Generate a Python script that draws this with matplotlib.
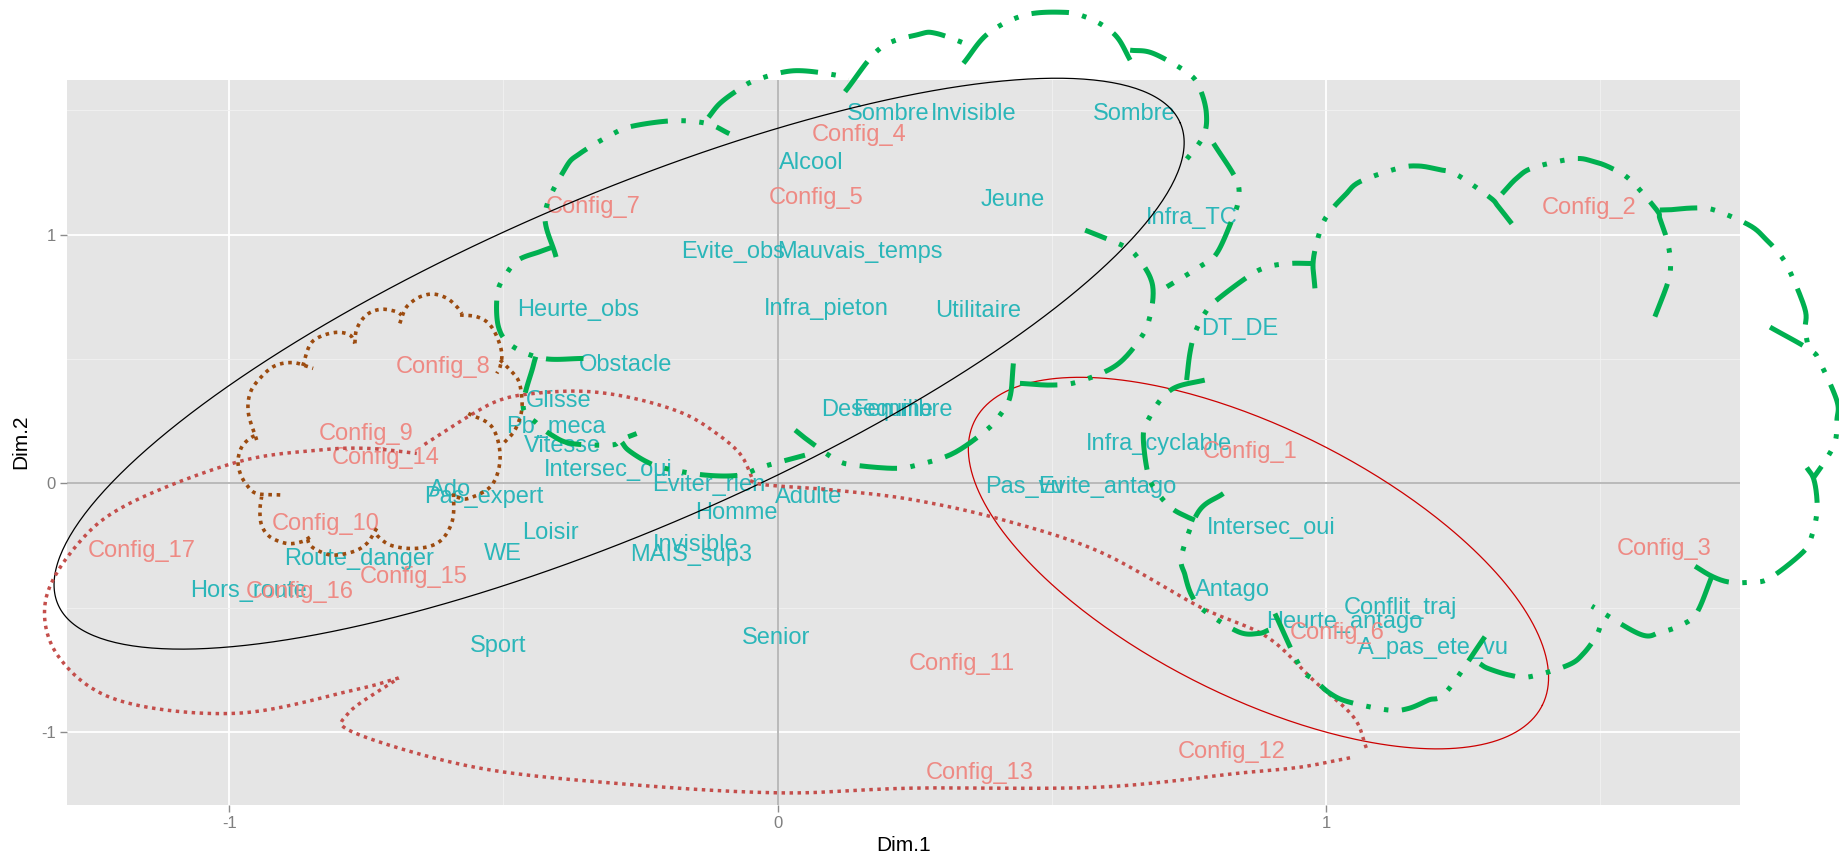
import numpy as np
import matplotlib.pyplot as plt

plt.rcParams['font.family'] = ['Liberation Sans', 'DejaVu Sans']

# modalités des variables (coordonnées Dim.1 / Dim.2)
noms_var = ["Sombre", "Invisible", "Sombre", "Alcool", "Jeune", "Infra_TC", "Evite_obs",
            "Mauvais_temps", "Heurte_obs", "Infra_pieton", "Utilitaire", "DT_DE", "Obstacle",
            "Glisse", "Desequilibre", "Femme", "Pb_meca", "Vitesse", "Infra_cyclable",
            "Intersec_oui", "Eviter_rien", "Pas_vu", "Evite_antago", "Ado", "Pas_expert",
            "Adulte", "Homme", "Intersec_oui", "Loisir", "Invisible", "WE", "MAIS_sup3",
            "Route_danger", "Antago", "Hors_route", "Conflit_traj", "Heurte_antago",
            "Senior", "Sport", "A_pas_ete_vu"]
x_var = [0.201, 0.357, 0.650, 0.062, 0.428, 0.755, -0.081, 0.150, -0.364, 0.088, 0.366,
         0.843, -0.278, -0.400, 0.199, 0.210, -0.404, -0.393, 0.695, -0.308, -0.126, 0.450,
         0.601, -0.597, -0.535, 0.056, -0.075, 0.901, -0.415, -0.150, -0.501, -0.158,
         -0.764, 0.830, -0.965, 1.136, 1.033, -0.002, -0.509, 1.196]
y_var = [1.486, 1.486, 1.486, 1.288, 1.139, 1.066, 0.929, 0.929, 0.698, 0.700, 0.693,
         0.620, 0.476, 0.330, 0.295, 0.295, 0.226, 0.151, 0.156, 0.052, -0.007, -0.014,
         -0.014, -0.028, -0.054, -0.054, -0.118, -0.179, -0.201, -0.249, -0.285, -0.288,
         -0.305, -0.429, -0.433, -0.503, -0.557, -0.621, -0.653, -0.664]

# configurations (individus)
noms_conf = ["Config_%d" % i for i in range(1, 18)]
x_conf = [0.862, 1.480, 1.617, 0.148, 0.071, 1.020, -0.336, -0.610, -0.751, -0.824,
          0.336, 0.828, 0.368, -0.714, -0.663, -0.871, -1.159]
y_conf = [0.124, 1.109, -0.264, 1.401, 1.146, -0.604, 1.113, 0.468, 0.200, -0.164,
          -0.726, -1.080, -1.165, 0.100, -0.376, -0.436, -0.274]

# ellipses : centre + deux demi-axes conjugués
ellipse_noire = [(-0.289, 0.481), (1.0235, 0.9675), (-0.120, 0.618)]
ellipse_rouge = [(0.877, -0.321), (0.5177, -0.5717), (0.1093, 0.4811)]

# lasso pointillé rouge, tracé en quatre morceaux
lasso = [
    [(1.044, -1.104), (0.952, -1.142), (0.845, -1.165), (0.588, -1.222), (0.246, -1.226),
     (0.002, -1.245), (-0.289, -1.208), (-0.552, -1.142), (-0.770, -1.005), (-0.783, -0.925),
     (-0.691, -0.783)],
    [(-0.691, -0.783), (-0.770, -0.830), (-0.986, -0.925), (-1.202, -0.873), (-1.311, -0.698),
     (-1.335, -0.472), (-1.275, -0.241), (-1.181, -0.080), (-0.986, 0.085), (-0.834, 0.134),
     (-0.744, 0.140), (-0.658, 0.120)],
    [(-0.644, 0.156), (-0.560, 0.274), (-0.506, 0.335), (-0.446, 0.361), (-0.354, 0.370),
     (-0.263, 0.342), (-0.172, 0.281), (-0.111, 0.200), (-0.069, 0.120), (-0.050, 0.040),
     (-0.045, 0.005)],
    [(-0.050, 0.010), (-0.020, -0.007), (0.101, -0.027), (0.246, -0.066), (0.409, -0.146),
     (0.587, -0.275), (0.770, -0.497), (0.892, -0.617), (0.977, -0.792), (1.050, -0.939),
     (1.074, -1.066)],
]

# nuage marron (pointillé)
nuage_marron = [
    [(-0.950, 0.174), (-0.965, 0.281), (-0.962, 0.362), (-0.944, 0.422), (-0.917, 0.472),
     (-0.883, 0.485), (-0.847, 0.462)],
    [(-0.866, 0.472), (-0.853, 0.556), (-0.834, 0.590), (-0.804, 0.607), (-0.780, 0.596),
     (-0.771, 0.563)],
    [(-0.771, 0.563), (-0.768, 0.617), (-0.756, 0.663), (-0.740, 0.690), (-0.719, 0.700),
     (-0.695, 0.690), (-0.686, 0.677)],
    [(-0.689, 0.643), (-0.680, 0.697), (-0.670, 0.724), (-0.652, 0.750), (-0.628, 0.761),
     (-0.603, 0.744), (-0.585, 0.710), (-0.576, 0.683)],
    [(-0.579, 0.677), (-0.549, 0.670), (-0.527, 0.643), (-0.512, 0.590), (-0.503, 0.523),
     (-0.506, 0.469), (-0.512, 0.442)],
    [(-0.506, 0.496), (-0.488, 0.456), (-0.473, 0.415), (-0.467, 0.355), (-0.467, 0.288),
     (-0.479, 0.214), (-0.500, 0.160)],
    [(-0.564, 0.281), (-0.521, 0.227), (-0.506, 0.107), (-0.521, -0.007), (-0.564, -0.061),
     (-0.588, -0.054)],
    [(-0.591, -0.041), (-0.591, -0.121), (-0.597, -0.175), (-0.613, -0.228), (-0.637, -0.255),
     (-0.673, -0.262), (-0.707, -0.248), (-0.728, -0.215), (-0.734, -0.195)],
    [(-0.731, -0.181), (-0.749, -0.242), (-0.774, -0.275), (-0.810, -0.289), (-0.834, -0.275),
     (-0.853, -0.248), (-0.858, -0.212)],
    [(-0.853, -0.217), (-0.868, -0.235), (-0.895, -0.242), (-0.926, -0.215), (-0.941, -0.168),
     (-0.944, -0.108), (-0.941, -0.054)],
    [(-0.907, -0.047), (-0.950, -0.041), (-0.968, -0.007), (-0.980, 0.040), (-0.984, 0.093),
     (-0.977, 0.147), (-0.962, 0.181), (-0.950, 0.194)],
]

# grand nuage vert du haut
nuage_vert_1 = [
    [(-0.404, 0.910), (-0.424, 1.085), (-0.387, 1.267), (-0.360, 1.327), (-0.299, 1.407),
     (-0.263, 1.437), (-0.190, 1.458), (-0.129, 1.447), (-0.088, 1.406)],
    [(-0.126, 1.472), (-0.105, 1.528), (-0.072, 1.582), (-0.039, 1.622), (0.029, 1.659),
     (0.105, 1.642), (0.129, 1.622)],
    [(0.123, 1.575), (0.187, 1.749), (0.257, 1.805), (0.290, 1.809), (0.357, 1.756)],
    [(0.339, 1.689), (0.384, 1.809), (0.451, 1.883), (0.524, 1.894), (0.561, 1.876),
     (0.595, 1.839), (0.621, 1.789), (0.643, 1.702)],
    [(0.643, 1.742), (0.685, 1.729), (0.749, 1.649), (0.770, 1.588), (0.782, 1.488),
     (0.776, 1.394), (0.740, 1.286)],
    [(0.795, 1.367), (0.837, 1.219), (0.840, 1.139), (0.831, 1.072), (0.801, 0.925),
     (0.770, 0.871), (0.710, 0.790)],
    [(0.442, 0.402), (0.500, 0.395), (0.548, 0.408), (0.618, 0.475), (0.664, 0.590),
     (0.679, 0.670), (0.685, 0.764), (0.679, 0.831), (0.658, 0.904), (0.634, 0.951),
     (0.561, 1.018)],
    [(0.430, 0.482), (0.424, 0.348), (0.406, 0.275), (0.381, 0.214), (0.320, 0.120),
     (0.254, 0.073), (0.214, 0.060), (0.141, 0.073), (0.108, 0.093), (0.059, 0.167),
     (0.032, 0.214)],
    [(-0.284, 0.165), (-0.272, 0.133), (-0.239, 0.087), (-0.205, 0.060), (-0.132, 0.033),
     (-0.069, 0.033), (-0.026, 0.067), (0.050, 0.113)],
    [(-0.441, 0.509), (-0.446, 0.469), (-0.464, 0.308), (-0.439, 0.241), (-0.412, 0.194),
     (-0.376, 0.160), (-0.303, 0.154), (-0.287, 0.174), (-0.257, 0.200)],
    [(-0.354, 0.502), (-0.427, 0.502), (-0.484, 0.552), (-0.509, 0.629), (-0.511, 0.764),
     (-0.496, 0.837), (-0.473, 0.898), (-0.434, 0.931), (-0.409, 0.951)],
]

# nuage vert de droite
nuage_vert_2 = [
    [(0.746, 0.415), (0.752, 0.523), (0.761, 0.603), (0.779, 0.683), (0.801, 0.737),
     (0.862, 0.837), (0.895, 0.871), (0.933, 0.884), (0.974, 0.884)],
    [(0.980, 0.784), (0.977, 0.898), (0.992, 1.032), (1.010, 1.099), (1.035, 1.159),
     (1.062, 1.213), (1.132, 1.267), (1.169, 1.276), (1.205, 1.262), (1.238, 1.242),
     (1.299, 1.150), (1.314, 1.114), (1.339, 1.044)],
    [(1.321, 1.164), (1.348, 1.227), (1.378, 1.269), (1.451, 1.305), (1.487, 1.295),
     (1.521, 1.267), (1.555, 1.220), (1.603, 1.100), (1.609, 1.065), (1.621, 0.987),
     (1.628, 0.903), (1.625, 0.818), (1.600, 0.670)],
    [(1.609, 1.099), (1.628, 1.100), (1.670, 1.107), (1.707, 1.100), (1.773, 1.037),
     (1.803, 0.980), (1.828, 0.920), (1.846, 0.853), (1.874, 0.698), (1.874, 0.621),
     (1.880, 0.543)],
    [(1.810, 0.628), (1.883, 0.536), (1.901, 0.486), (1.932, 0.331), (1.932, 0.254),
     (1.929, 0.169), (1.913, 0.099), (1.889, 0.021)],
    [(1.877, 0.063), (1.889, 0.021), (1.895, -0.050), (1.895, -0.127), (1.886, -0.212),
     (1.871, -0.275), (1.810, -0.381), (1.776, -0.398), (1.737, -0.398), (1.704, -0.374),
     (1.667, -0.325)],
    [(1.704, -0.374), (1.676, -0.522), (1.646, -0.572), (1.609, -0.600), (1.573, -0.607),
     (1.485, -0.494)],
    [(1.281, -0.726), (1.296, -0.745), (1.336, -0.772), (1.372, -0.778), (1.442, -0.731),
     (1.470, -0.684), (1.494, -0.610), (1.504, -0.547)],
    [(0.907, -0.524), (0.953, -0.738), (0.980, -0.792), (1.007, -0.844), (1.041, -0.879),
     (1.114, -0.912), (1.150, -0.906), (1.187, -0.872), (1.220, -0.838), (1.290, -0.617)],
    [(0.813, -0.041), (0.768, -0.113), (0.737, -0.289), (0.743, -0.369), (0.755, -0.450),
     (0.776, -0.509), (0.840, -0.597), (0.877, -0.604), (0.896, -0.590)],
    [(0.779, 0.415), (0.728, 0.388), (0.701, 0.342), (0.679, 0.268), (0.667, 0.194),
     (0.676, 0.033), (0.694, -0.041), (0.719, -0.101), (0.746, -0.134), (0.761, -0.148)],
]


# courbe lisse (Catmull-Rom) passant par les points relevés
def lisser(points, n=14):
    p = np.asarray(points, dtype=float)
    p = np.vstack([2 * p[0] - p[1], p, 2 * p[-1] - p[-2]])
    t = np.linspace(0, 1, n, endpoint=False)[:, None]
    morceaux = []
    for i in range(1, len(p) - 2):
        p0, p1, p2, p3 = p[i - 1], p[i], p[i + 1], p[i + 2]
        morceaux.append(0.5 * (2 * p1 + (p2 - p0) * t
                               + (2 * p0 - 5 * p1 + 4 * p2 - p3) * t ** 2
                               + (3 * p1 - p0 - 3 * p2 + p3) * t ** 3))
    morceaux.append(p[-2][None, :])
    return np.vstack(morceaux)


def ellipse(centre, u, v, n=400):
    t = np.linspace(0, 2 * np.pi, n)
    x = centre[0] + u[0] * np.cos(t) + v[0] * np.sin(t)
    y = centre[1] + u[1] * np.cos(t) + v[1] * np.sin(t)
    return x, y


fig = plt.figure(figsize=(18.39, 8.6), dpi=100)
ax = fig.add_axes([0.0364, 0.0645, 0.9100, 0.8428])
ax.set_facecolor('#E5E5E5')
ax.set_xlim(-1.296, 1.756)
ax.set_ylim(-1.292, 1.623)

# grille façon ggplot
ax.set_xticks([-1, 0, 1])
ax.set_yticks([-1, 0, 1])
ax.set_xticks([-0.5, 0.5, 1.5], minor=True)
ax.set_yticks([-0.5, 0.5, 1.5], minor=True)
ax.grid(which='major', color='white', linewidth=1.3)
ax.grid(which='minor', color='#F2F2F2', linewidth=0.6)
ax.set_axisbelow(True)
for s in ax.spines.values():
    s.set_visible(False)
ax.tick_params(which='major', length=5, width=1, color='#8C8C8C',
               labelcolor='#7F7F7F', labelsize=12, pad=3)
ax.tick_params(which='minor', length=0)
ax.set_xticklabels(['-1', '0', '1'])
ax.set_yticklabels(['-1', '0', '1'])
ax.set_xlabel('Dim.1', fontsize=15, labelpad=4)
ax.set_ylabel('Dim.2', fontsize=15, labelpad=8)

ax.axhline(0, color='#A6A6A6', linewidth=1.1, zorder=1)
ax.axvline(0, color='#A6A6A6', linewidth=1.1, zorder=1)

for nom, x, y in zip(noms_var, x_var, y_var):
    ax.text(x, y, nom, color='#2BB6B9', fontsize=17, ha='center', va='center', zorder=3)
for nom, x, y in zip(noms_conf, x_conf, y_conf):
    ax.text(x, y, nom, color='#EE8A84', fontsize=17, ha='center', va='center', zorder=3)

# ellipses
ex, ey = ellipse(*ellipse_noire)
ax.plot(ex, ey, color='black', linewidth=0.9, zorder=4, clip_on=False)
ex, ey = ellipse(*ellipse_rouge)
ax.plot(ex, ey, color='#CC0000', linewidth=0.9, zorder=4, clip_on=False)

# lasso rouge
for morceau in lasso:
    c = lisser(morceau)
    ax.plot(c[:, 0], c[:, 1], color='#C44E4B', linewidth=2.5, linestyle=(0, (1, 1.3)),
            dash_capstyle='butt', zorder=4, clip_on=False)

# nuage marron
for arc in nuage_marron:
    c = lisser(arc)
    ax.plot(c[:, 0], c[:, 1], color='#9C4B0F', linewidth=2.6, linestyle=(0, (1, 1.3)),
            dash_capstyle='butt', zorder=4, clip_on=False)

# nuages verts (tiret-point-point)
for arc in nuage_vert_1 + nuage_vert_2:
    c = lisser(arc)
    ax.plot(c[:, 0], c[:, 1], color='#00B050', linewidth=3.6,
            linestyle=(0, (7.5, 2.7, 0.9, 2.7, 0.9, 2.7)),
            dash_capstyle='butt', zorder=5, clip_on=False)

fig.savefig('out.png', dpi=100, facecolor='white')
